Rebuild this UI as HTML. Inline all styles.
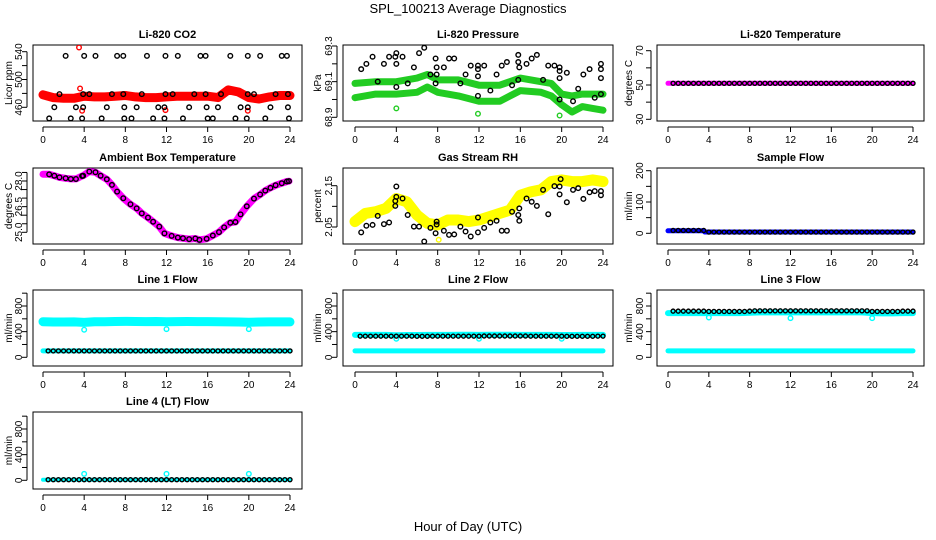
<!DOCTYPE html>
<html><head><meta charset="utf-8">
<style>
html,body{margin:0;padding:0;background:#fff;}
svg{display:block;font-family:"Liberation Sans",sans-serif;}
</style></head>
<body>
<svg id="chart" width="936" height="540" viewBox="0 0 936 540" xmlns="http://www.w3.org/2000/svg">
<text x="468" y="13" text-anchor="middle" font-size="13">SPL_100213  Average Diagnostics</text>
<text x="468" y="531" text-anchor="middle" font-size="13">Hour of Day (UTC)</text>
</svg>
<script>
// ---------- data ----------
const hourly = [0,1,2,3,4,5,6,7,8,9,10,11,12,13,14,15,16,17,18,19,20,21,22,23,24];
const halfHours = [0.5,1,1.5,2,2.5,3,3.5,4,4.5,5,5.5,6,6.5,7,7.5,8,8.5,9,9.5,10,10.5,11,11.5,12,12.5,13,13.5,14,14.5,15,15.5,16,16.5,17,17.5,18,18.5,19,19.5,20,20.5,21,21.5,22,22.5,23,23.5,24];
const xTicks = [0,4,8,12,16,20,24];

// CO2
const co2Band = [478,474,473,473,476,475,475,476,477,475,474,474,475,476,476,476,476,474,485,482,474,472,475,477,477];
const co2PtHours = [2.2,4.0,5.1,7.2,7.8,10.1,11.9,13.1,15.3,15.8,18.2,19.9,21.1,23.2,23.7, 1.6,3.9,4.5,6.7,7.8,9.6,11.9,12.6,14.7,15.8,17.3,19.9,20.5,22.6,23.8, 1.1,3.2,3.9,6.2,7.9,9.1,11.2,11.8,14.2,15.9,17.0,19.2,19.9,22.1,23.8, 0.6,2.7,3.8,5.7,7.9,8.6,10.7,11.8,13.6,16.0,16.5,18.7,19.8,21.6,23.9];
const co2PtVals = [534,534,534,534,534,534,534,534,534,534,534,534,534,534,534, 479,479,479,479,479,479,479,479,479,479,479,479,479,479,479, 460,460,460,460,460,460,460,460,460,460,460,460,460,460,460, 444,444,444,444,444,444,444,444,444,444,444,444,444,444,444];
const co2OutHours = [3.5,3.6,3.8,11.9,19.9];
const co2OutVals = [546,487,455,456,455];

// Pressure
const presHours = [0,2,4,6,7,8,10,12,14,16,18,19,20,21,22,23,24];
const presUpper = [69.09,69.10,69.10,69.12,69.14,69.11,69.11,69.08,69.08,69.12,69.10,69.09,69.03,69.02,69.03,69.03,69.03];
const presLower = [69.01,69.03,69.03,69.04,69.07,69.04,69.02,68.99,68.99,69.05,69.04,69.02,68.97,68.93,68.96,68.95,68.94];
const presPtHours = [0.6,1.1,1.7,2.2,2.8,3.3,3.9,4.0,4.0,4.0,4.6,5.1,5.7,6.2,6.7,7.3,7.8,7.9,7.9,7.8,8.6,9.1,9.6,10.2,10.7,11.2,11.9,11.9,11.9,11.9,12.5,13.1,13.7,14.2,14.7,15.2,15.8,15.8,15.9,15.8,16.6,17.1,17.6,18.2,18.7,19.3,19.8,19.8,19.8,19.8,20.5,21.1,21.6,22.1,22.7,23.2,23.8,23.8,23.8,23.8];
const presPtVals = [69.17,69.20,69.24,69.10,69.20,69.24,69.24,69.26,69.20,69.07,69.24,69.09,69.18,69.26,69.29,69.14,69.23,69.18,69.14,69.09,69.18,69.23,69.23,69.09,69.14,69.19,69.19,69.17,69.13,69.02,69.19,69.05,69.14,69.19,69.21,69.08,69.25,69.21,69.18,69.11,69.20,69.23,69.25,69.11,69.19,69.19,69.18,69.16,69.12,69.00,69.15,68.99,69.06,69.14,69.17,69.01,69.20,69.17,69.12,69.03];
const presOutHours = [4.0,11.9,19.8];
const presOutVals = [68.95,68.92,68.91];

// Li-820 temperature
const liTempBand = [51,51,51,51,51,51,51,51,51,51,51,51,51,51,51,51,51,51,51,51,51,51,51,51,51];
const liTempPts = [51,51,51,51,51,51,51,51,51,51,51,51,51,51,51,51,51,51,51,51,51,51,51,51,51,51,51,51,51,51,51,51,51,51,51,51,51,51,51,51,51,51,51,51,51,51,51,51];

// Ambient temperature
const ambHours = [0,0.6,1.1,1.6,2.2,2.7,3.2,3.8,3.9,4.5,5.1,5.6,6.2,6.7,7.2,7.8,8.5,9.1,9.6,10.2,10.7,11.3,11.8,12.5,13.1,13.6,14.2,14.8,15.2,15.9,16.5,17.1,17.6,18.2,18.7,19.2,19.8,20.5,21.1,21.6,22.1,22.6,23.2,23.7,23.9];
const ambVals = [28.40,28.39,28.31,28.21,28.16,28.12,28.12,28.29,28.31,28.55,28.51,28.31,28.10,27.77,27.38,26.99,26.64,26.40,26.11,25.86,25.62,25.33,24.94,24.79,24.69,24.65,24.60,24.64,24.56,24.62,24.81,25.01,25.29,25.56,25.60,26.05,26.52,26.97,27.21,27.44,27.60,27.75,27.87,27.97,27.99];

// Gas stream RH
const rhBand = [2.063,2.083,2.087,2.095,2.119,2.111,2.079,2.059,2.055,2.067,2.067,2.063,2.067,2.075,2.083,2.091,2.127,2.135,2.140,2.160,2.164,2.160,2.160,2.164,2.160];
const rhPtHours = [0.6,1.1,1.7,2.2,2.8,3.3,3.9,3.9,4.0,4.0,4.6,5.1,5.7,6.2,6.7,7.3,7.8,7.9,7.9,8.6,9.1,9.6,10.2,10.7,11.2,11.9,11.9,12.5,13.1,13.7,14.2,14.7,15.2,15.8,15.9,15.9,16.6,17.1,17.6,18.2,18.7,19.3,19.8,19.8,19.9,20.5,21.1,21.6,22.1,22.7,23.2,23.8,23.8];
const rhPtVals = [2.037,2.053,2.055,2.077,2.057,2.061,2.101,2.113,2.123,2.148,2.119,2.079,2.051,2.051,2.015,2.048,2.035,2.063,2.056,2.041,2.031,2.032,2.051,2.039,2.027,2.037,2.073,2.048,2.061,2.065,2.041,2.041,2.087,2.079,2.065,2.095,2.119,2.111,2.101,2.140,2.081,2.149,2.148,2.129,2.166,2.110,2.140,2.144,2.118,2.134,2.137,2.127,2.137];
const rhOutHours = [8.1];
const rhOutVals = [2.019];

// Sample flow
const sampleBandHours = [0,1,2,3,3.5,3.6,8,12,16,20,24];
const sampleBand = [8,8,8,8,8,4,4,4,4,4,4];
const samplePts = [9,9,9,9,9,9,9,4,4,4,4,4,4,4,4,4,4,4,4,4,4,4,4,4,4,4,4,4,4,4,4,4,4,4,4,4,4,4,4,4,4,4,4,4,4,4,4,4];

// Flows
const line1Upper = [555,550,550,552,545,555,555,558,560,558,556,558,555,556,558,557,556,555,552,550,548,550,552,552,552];
const line1Lower = [100,100,100,100,100,100,100,100,100,100,100,100,100,100,100,100,100,100,100,100,100,100,100,100,100];
const line1Pts = [100,100,100,100,100,100,100,100,100,100,100,100,100,100,100,100,100,100,100,100,100,100,100,100,100,100,100,100,100,100,100,100,100,100,100,100,100,100,100,100,100,100,100,100,100,100,100,100];
const line1OutHours = [4,12,20];
const line1OutVals = [430,440,440];

const line2Upper = [350,350,350,350,345,348,348,350,350,350,352,352,350,352,352,352,350,350,350,350,348,348,350,350,350];
const line2Lower = [100,100,100,100,100,100,100,100,100,100,100,100,100,100,100,100,100,100,100,100,100,100,100,100,100];
const line2Pts = [330,330,330,330,330,330,330,330,330,330,330,328,328,328,330,330,330,330,330,330,330,330,330,330,332,332,332,332,332,332,332,332,332,330,330,330,330,330,330,330,328,328,328,328,328,328,330,330];
const line2OutHours = [4,12,20];
const line2OutVals = [290,290,290];

const line3Upper = [690,690,690,690,690,690,690,690,695,700,700,700,700,700,700,700,700,700,700,700,690,685,685,690,690];
const line3Lower = [100,100,100,100,100,100,100,100,100,100,100,100,100,100,100,100,100,100,100,100,100,100,100,100,100];
const line3Pts = [720,720,720,720,720,720,720,715,715,715,715,715,715,715,715,720,725,725,725,725,725,725,725,725,725,725,725,725,725,725,725,725,725,725,725,725,725,725,725,715,715,715,715,715,715,720,720,720];
const line3OutHours = [4,12,20];
const line3OutVals = [620,610,610];

const line4Band = [10,10,10,10,10,10,10,10,10,10,10,10,10,10,10,10,10,10,10,10,10,10,10,10,10];
const line4Pts = [10,10,10,10,10,10,10,10,10,10,10,10,10,10,10,10,10,10,10,10,10,10,10,10,10,10,10,10,10,10,10,10,10,10,10,10,10,10,10,10,10,10,10,10,10,10,10,10];
const line4OutHours = [4,12,20];
const line4OutVals = [100,100,100];

// ---------- drawing ----------
const NS = 'http://www.w3.org/2000/svg';
const svg = document.getElementById('chart');
const COLS = [{bx0:33,bx1:302,h0:43,h24:290,ylab:12,tick:22},
              {bx0:343,bx1:613,h0:355,h24:603,ylab:321,tick:332},
              {bx0:657,bx1:924,h0:668,h24:913,ylab:632,tick:643}];
const ROWS = [{by0:45,by1:121},{by0:168,by1:244},{by0:290,by1:366},{by0:412,by1:489}];

function el(tag, attrs, parent){
  const e = document.createElementNS(NS, tag);
  for (const k in attrs) e.setAttribute(k, attrs[k]);
  (parent||svg).appendChild(e);
  return e;
}

function makePanel(name, title, col, row, yl, v1, p1, v2, p2, yTicks, yLabels, labelFmt){
  const C = COLS[col], R = ROWS[row];
  const g = el('g', {});
  
  
  const x = h => C.h0 + (h) * (C.h24 - C.h0) / 24;
  const y = v => p1 + (v - v1) * (p2 - p1) / (v2 - v1);
  const t = el('text', {x:(C.bx0+C.bx1)/2, y:R.by0-7, 'text-anchor':'middle', 'font-size':'11', 'font-weight':'bold'}, g);
  t.textContent = title;
  
  
  const box = el('rect', {x:C.bx0, y:R.by0, width:C.bx1-C.bx0, height:R.by1-R.by0, fill:'none', stroke:'#000', 'stroke-width':'1'}, g);
  
  
  // x axis
  const xa = el('g', {}, g);
  
  
  el('line', {x1:x(0), x2:x(24), y1:R.by1+6, y2:R.by1+6, stroke:'#000'}, xa);
  xTicks.forEach(h => {
    el('line', {x1:x(h), x2:x(h), y1:R.by1+6, y2:R.by1+11, stroke:'#000'}, xa);
    if (row === 3 || (row === 0 && col === 2)) {} 
    const lt = el('text', {x:x(h), y:R.by1+22, 'text-anchor':'middle', 'font-size':'10'}, xa);
    lt.textContent = h;
    
    
  });
  // y axis
  const ya = el('g', {}, g);
  
  
  const ax = C.bx0 - 6;
  el('line', {x1:ax, x2:ax, y1:y(yTicks[0]), y2:y(yTicks[yTicks.length-1]), stroke:'#000'}, ya);
  yTicks.forEach(v => el('line', {x1:ax-5, x2:ax, y1:y(v), y2:y(v), stroke:'#000'}, ya));
  yLabels.forEach(v => {
    const yy = y(v);
    const lt = el('text', {x:C.tick, y:yy, 'text-anchor':'middle', 'font-size':'10', transform:`rotate(-90 ${C.tick} ${yy})`}, ya);
    lt.textContent = labelFmt ? labelFmt(v) : v;
    
    
  });
  const ym = (R.by0 + R.by1) / 2;
  const yt = el('text', {x:C.ylab, y:ym, 'text-anchor':'middle', 'font-size':'10', transform:`rotate(-90 ${C.ylab} ${ym})`}, ya);
  yt.textContent = yl;
  
  
  const clip = 'clip-' + name;
  const cp = el('clipPath', {id:clip}, g);
  el('rect', {x:C.bx0, y:R.by0, width:C.bx1-C.bx0, height:R.by1-R.by0}, cp);
  const plot = el('g', {'clip-path':`url(#${clip})`}, g);
  return {x, y, plot, name};
}

function band(P, hours, vals, color, w, nm){
  const pts = hours.map((h,i) => P.x(h).toFixed(1) + ',' + P.y(vals[i]).toFixed(1)).join(' ');
  const pl = el('polyline', {points:pts, fill:'none', stroke:color, 'stroke-width':w, 'stroke-linejoin':'round', 'stroke-linecap':'round'}, P.plot);
  
  
}
function points(P, hours, vals, color, nm, r){
  const g = el('g', {}, P.plot);
  
  
  hours.forEach((h,i) => {
    const c = el('circle', {cx:P.x(h), cy:P.y(vals[i]), r:r||2.3, fill:'none', stroke:color, 'stroke-width':'1.4'}, g);
    
    
  });
}

// CO2
let P = makePanel('co2', 'Li-820 CO2', 0, 0, 'Licor ppm', 540, 51.7, 460, 107.3, [460,480,500,520,540], [460,500,540]);
band(P, hourly, co2Band, '#ff0000', 9, 'co2-band');
points(P, co2OutHours, co2OutVals, '#ff0000', 'co2-red-outliers');
points(P, co2PtHours, co2PtVals, '#000', 'co2-black-points');

// Pressure
P = makePanel('pressure', 'Li-820 Pressure', 1, 0, 'kPa', 69.3, 46, 68.9, 117.3, [68.9,69.0,69.1,69.2,69.3], [68.9,69.1,69.3], v => v.toFixed(1));
band(P, presHours, presUpper, '#22cc22', 7, 'pressure-upper-band');
band(P, presHours, presLower, '#22cc22', 7, 'pressure-lower-band');
points(P, presOutHours, presOutVals, '#22cc22', 'pressure-green-outliers');
points(P, presPtHours, presPtVals, '#000', 'pressure-black-points');

// Li-820 temperature
P = makePanel('li-temp', 'Li-820 Temperature', 2, 0, 'degrees C', 70, 50.7, 30, 119.3, [30,40,50,60,70], [30,50,70]);
band(P, hourly, liTempBand, '#ff00ff', 5, 'li-temp-band');
points(P, halfHours, liTempPts, '#000', 'li-temp-black-points', 2);

// Ambient
P = makePanel('ambient', 'Ambient Box Temperature', 0, 1, 'degrees C', 28.0, 181, 25.0, 232.3, [25,25.5,26,26.5,27,27.5,28,28.5], [25,26.5,28], v => v.toFixed(1));
band(P, ambHours, ambVals, '#ff00ff', 7, 'ambient-band');
points(P, ambHours.slice(1), ambVals.slice(1), '#000', 'ambient-black-points');

// RH
P = makePanel('rh', 'Gas Stream RH', 1, 1, 'percent', 2.15, 185.7, 2.05, 227, [2.05,2.10,2.15], [2.05,2.15], v => v.toFixed(2));
band(P, hourly, rhBand, '#ffff00', 11, 'rh-band');
points(P, rhOutHours, rhOutVals, '#ffff00', 'rh-yellow-outliers');
points(P, rhPtHours, rhPtVals, '#000', 'rh-black-points');

// Sample flow
P = makePanel('sample-flow', 'Sample Flow', 2, 1, 'ml/min', 200, 170.7, 0, 233.3, [0,50,100,150,200], [0,100,200]);
band(P, sampleBandHours, sampleBand, '#0000ff', 5, 'sample-flow-band');
points(P, halfHours, samplePts, '#000', 'sample-flow-black-points', 2);

// Line flows
const flowTicks = [0,200,400,600,800,1000], flowLabels = [0,400,800];
P = makePanel('line1-flow', 'Line 1 Flow', 0, 2, 'ml/min', 800, 306, 0, 357.3, flowTicks, flowLabels);
band(P, hourly, line1Upper, '#00ffff', 9, 'line1-upper-band');
band(P, hourly, line1Lower, '#00ffff', 5, 'line1-lower-band');
points(P, line1OutHours, line1OutVals, '#00ffff', 'line1-outliers');
points(P, halfHours, line1Pts, '#000', 'line1-black-points', 2);

P = makePanel('line2-flow', 'Line 2 Flow', 1, 2, 'ml/min', 800, 306, 0, 357.3, flowTicks, flowLabels);
band(P, hourly, line2Upper, '#00ffff', 6, 'line2-upper-band');
band(P, hourly, line2Lower, '#00ffff', 5, 'line2-lower-band');
points(P, line2OutHours, line2OutVals, '#00ffff', 'line2-outliers');
points(P, halfHours, line2Pts, '#000', 'line2-black-points', 2);

P = makePanel('line3-flow', 'Line 3 Flow', 2, 2, 'ml/min', 800, 306, 0, 357.3, flowTicks, flowLabels);
band(P, hourly, line3Upper, '#00ffff', 6, 'line3-upper-band');
band(P, hourly, line3Lower, '#00ffff', 5, 'line3-lower-band');
points(P, line3OutHours, line3OutVals, '#00ffff', 'line3-outliers');
points(P, halfHours, line3Pts, '#000', 'line3-black-points', 2);

P = makePanel('line4-flow', 'Line 4 (LT) Flow', 0, 3, 'ml/min', 800, 429, 0, 480.3, flowTicks, flowLabels);
band(P, hourly, line4Band, '#00ffff', 4, 'line4-band');
points(P, line4OutHours, line4OutVals, '#00ffff', 'line4-outliers');
points(P, halfHours, line4Pts, '#000', 'line4-black-points', 2);
</script>
</body></html>
